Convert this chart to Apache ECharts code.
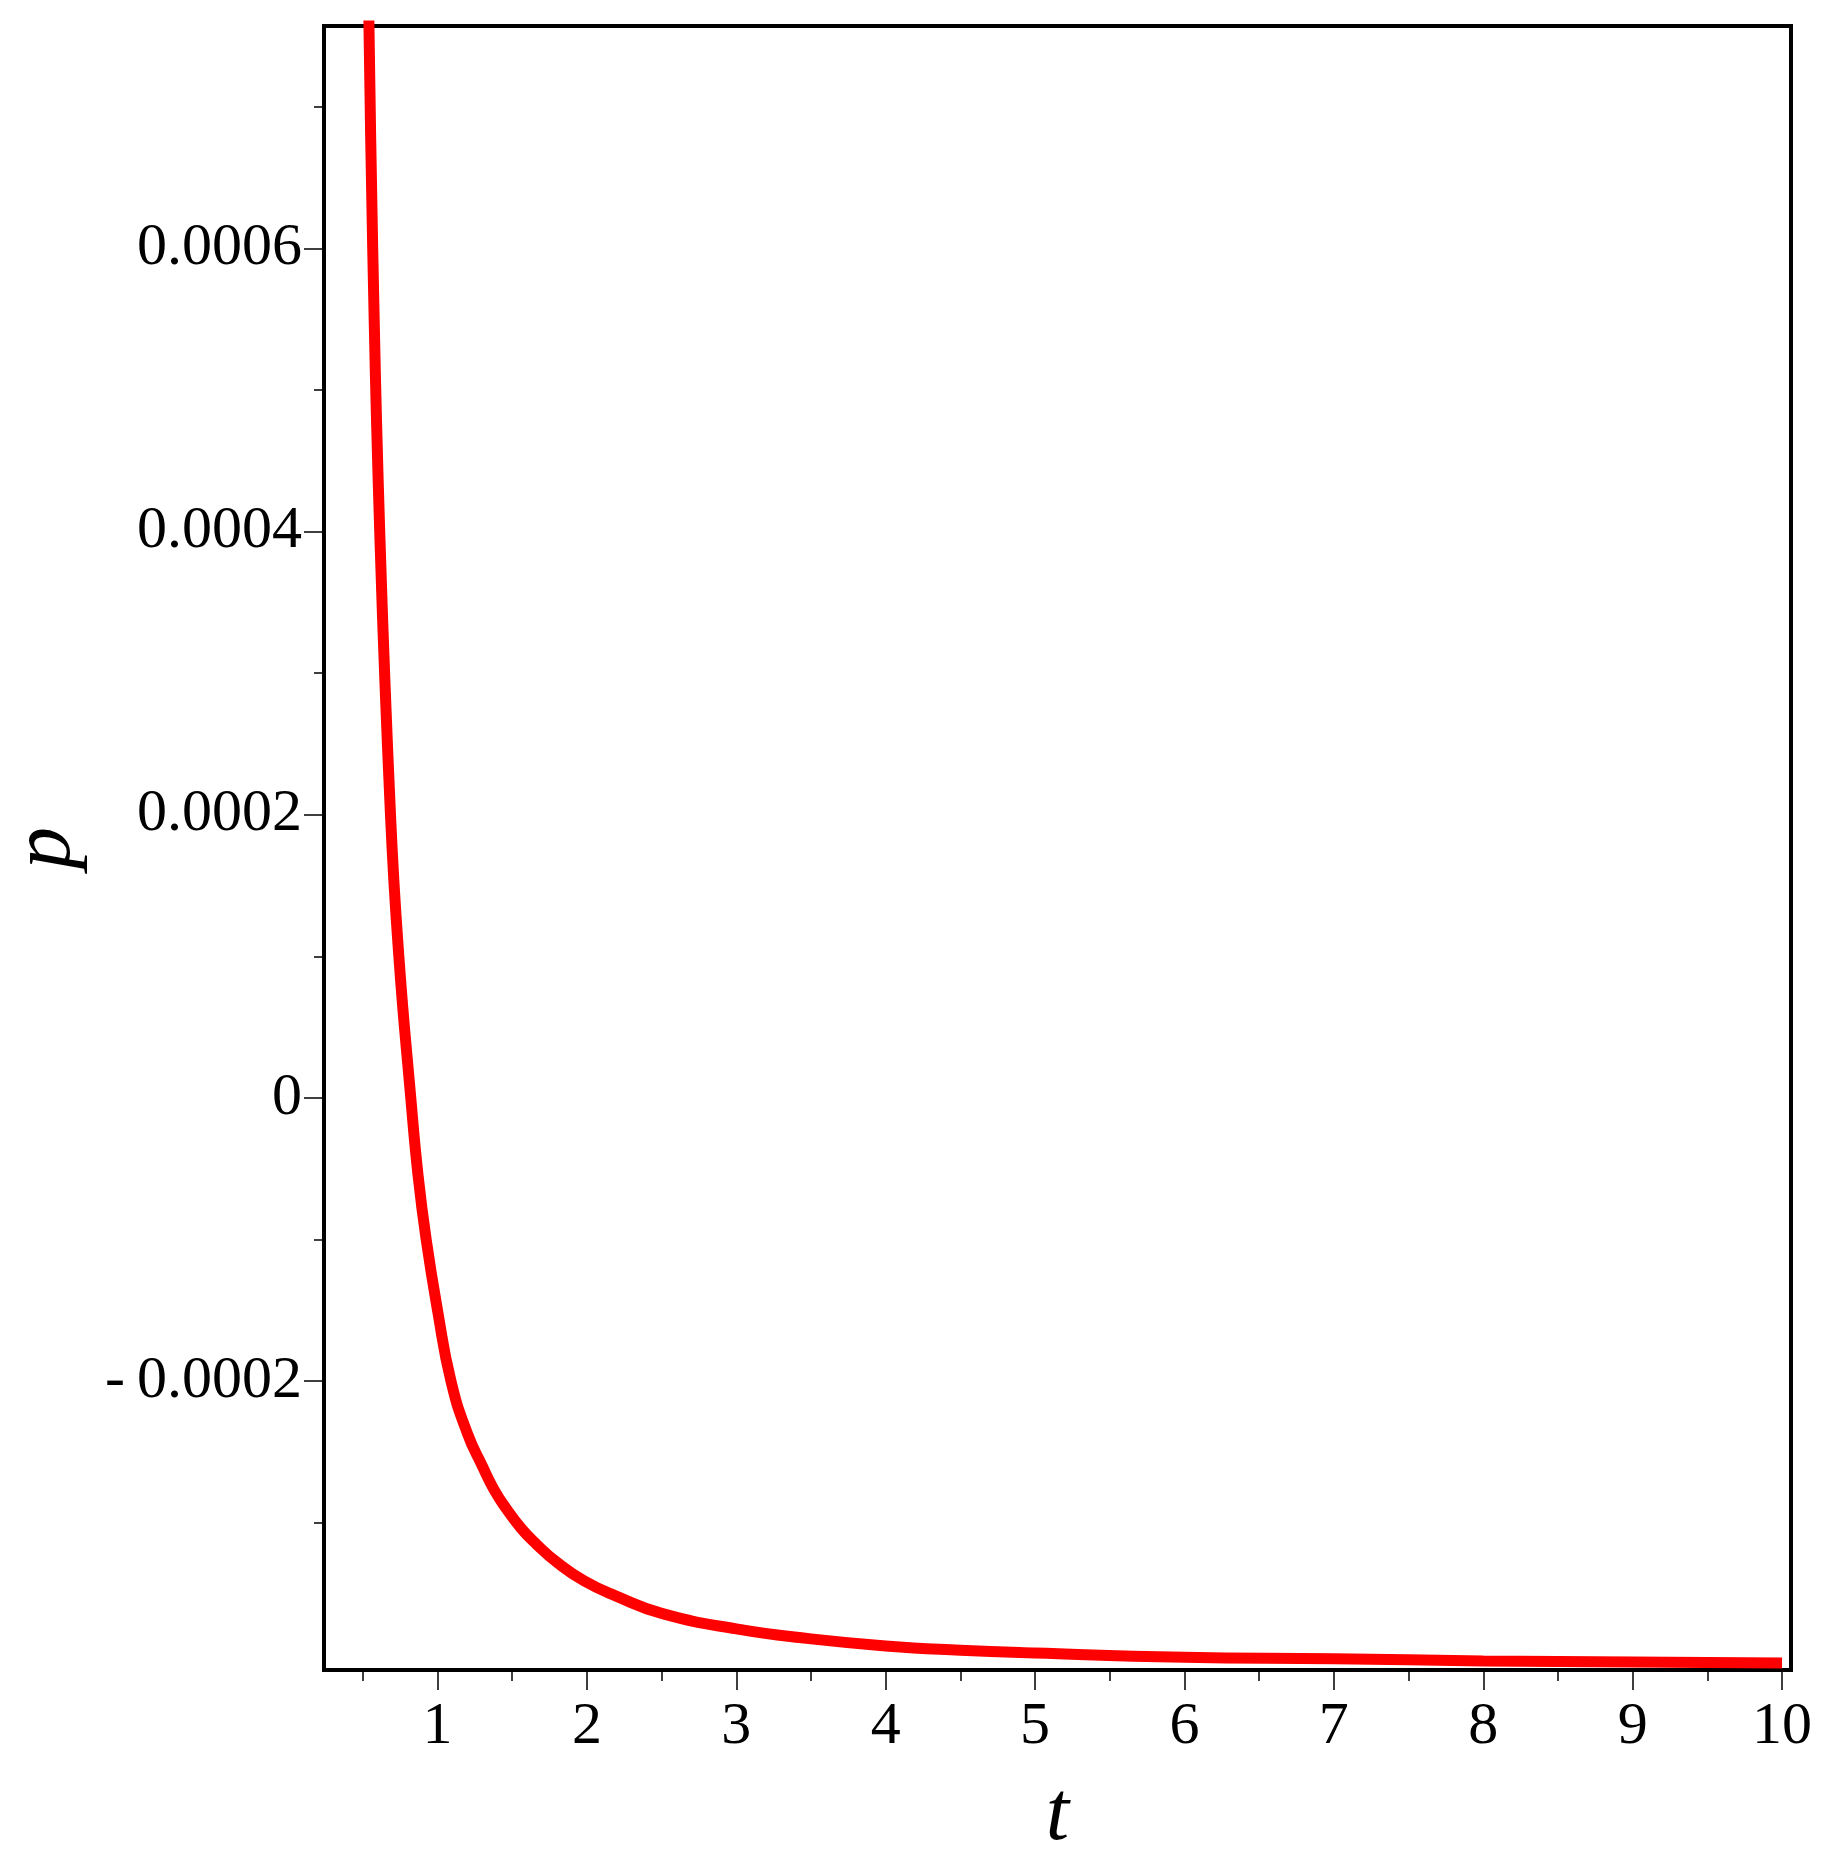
<!DOCTYPE html>
<html>
<head>
<meta charset="utf-8">
<title>p(t)</title>
<script src="https://cdn.jsdelivr.net/npm/echarts@6/dist/echarts.min.js"></script>
<style>
  html, body { margin: 0; padding: 0; background: #fff; }
  #chartContainerID { width: 1832px; height: 1867px; }
</style>
</head>
<body>
<div id="chartContainerID"></div>
<script>
let chartContainerID = document.getElementById("chartContainerID");

// values
var tValues = [0.53, 0.541, 0.566, 0.613, 0.685, 0.741, 0.821, 0.87, 0.924, 1.0, 1.09, 1.2, 1.3, 1.38, 1.46, 1.56, 1.66, 1.8, 1.98, 2.2, 2.5, 3, 3.5, 4, 4.5, 5, 6, 7, 8, 9, 10];
var pValues = [0.00082, 0.000757, 0.0006, 0.0004, 0.0002, 0.0001, 0, -0.000055, -0.0001, -0.00015, -0.0002, -0.000237, -0.00026, -0.000277, -0.00029, -0.000304, -0.000315, -0.000328, -0.000341, -0.000352, -0.000364, -0.000375, -0.000382, -0.000387, -0.00039, -0.000392, -0.000395, -0.000396, -0.0003976, -0.0003983, -0.000399];

var xTicks = [1, 2, 3, 4, 5, 6, 7, 8, 9, 10];
var xMinorTicks = [0.5, 1.5, 2.5, 3.5, 4.5, 5.5, 6.5, 7.5, 8.5, 9.5];
var yTicks = [-0.0002, 0, 0.0002, 0.0004, 0.0006];
var yMinorTicks = [-0.0003, -0.0001, 0.0001, 0.0003, 0.0005, 0.0007];

var xMin = 0.24, xMax = 10.06;
var yMin = -0.000404, yMax = 0.000757;

var seriesData = [];
for (var i = 0; i < tValues.length; i++) {
  seriesData.push([tValues[i], pValues[i]]);
}

var serif = '"Liberation Serif", "Times New Roman", serif';

function yLabel(v) {
  if (Math.abs(v) < 1e-12) return '0';
  if (v < 0) return '-\u2009' + (-v).toFixed(4);
  return v.toFixed(4);
}

var myChart = echarts.init(chartContainerID);

var option = {
  animation: false,
  backgroundColor: '#fff',
  grid: {
    left: 324, right: 41, top: 26, bottom: 197,
    show: true, borderColor: '#000', borderWidth: 4,
    containLabel: false, outerBoundsMode: 'none'
  },
  xAxis: [{
    type: 'value', position: 'bottom', min: xMin, max: xMax,
    name: 't', nameLocation: 'middle', nameGap: 105,
    nameTextStyle: { fontFamily: serif, fontStyle: 'italic', fontSize: 84, color: '#000' },
    axisLine: { show: false, onZero: false },
    splitLine: { show: false },
    axisTick: { customValues: xTicks, length: 20, lineStyle: { color: '#000', width: 1.5 } },
    axisLabel: { customValues: xTicks, margin: 27, fontFamily: serif, fontSize: 60, color: '#000' }
  }, {
    type: 'value', position: 'bottom', min: xMin, max: xMax,
    axisLine: { show: false, onZero: false },
    splitLine: { show: false },
    axisTick: { customValues: xMinorTicks, length: 11, lineStyle: { color: '#000', width: 1.5 } },
    axisLabel: { show: false }
  }],
  yAxis: [{
    type: 'value', position: 'left', min: yMin, max: yMax,
    name: 'p', nameLocation: 'middle', nameGap: 235, nameRotate: 90,
    nameTextStyle: { fontFamily: serif, fontStyle: 'italic', fontSize: 84, color: '#000' },
    axisLine: { show: false, onZero: false },
    splitLine: { show: false },
    axisTick: { customValues: yTicks, length: 20, lineStyle: { color: '#000', width: 1.5 } },
    axisLabel: { customValues: yTicks, margin: 22, fontFamily: serif, fontSize: 60, color: '#000', formatter: yLabel }
  }, {
    type: 'value', position: 'left', min: yMin, max: yMax,
    axisLine: { show: false, onZero: false },
    splitLine: { show: false },
    axisTick: { customValues: yMinorTicks, length: 10, lineStyle: { color: '#000', width: 1.5 } },
    axisLabel: { show: false }
  }],
  series: [{
    type: 'line',
    xAxisIndex: 0, yAxisIndex: 0,
    data: seriesData,
    showSymbol: false,
    smooth: 0.5,
    clip: true,
    lineStyle: { color: '#ff0000', width: 11 }
  }]
};

myChart.setOption(option);
</script>
</body>
</html>
